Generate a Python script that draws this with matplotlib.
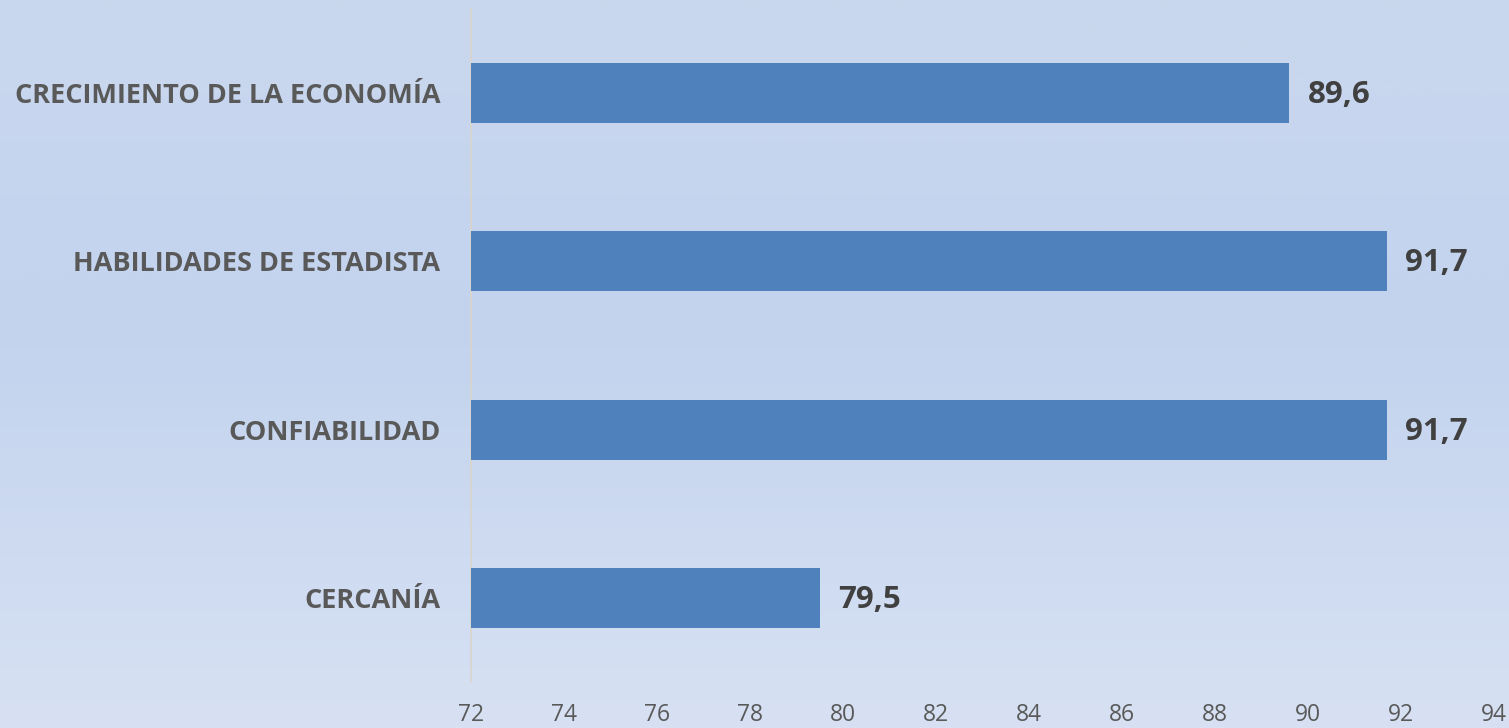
import matplotlib
matplotlib.use("Agg")
import matplotlib.pyplot as plt
import numpy as np
from matplotlib.colors import LinearSegmentedColormap

categories = ["CERCANÍA", "CONFIABILIDAD", "HABILIDADES DE ESTADISTA", "CRECIMIENTO DE LA ECONOMÍA"]
values = [79.5, 91.7, 91.7, 89.6]
value_labels = ["79,5", "91,7", "91,7", "89,6"]
xticks = [72, 74, 76, 78, 80, 82, 84, 86, 88, 90, 92, 94]

plt.rcParams['font.family'] = ['Open Sans', 'DejaVu Sans']

W, H = 1509, 728
fig = plt.figure(figsize=(W/100, H/100), dpi=100)

# background gradient
bg = fig.add_axes([0, 0, 1, 1], zorder=-10)
cmap = LinearSegmentedColormap.from_list("bg", [(0, "#CAD8EE"), (0.45, "#C3D3EE"), (1, "#D7E1F3")])
grad = np.linspace(0, 1, 256).reshape(-1, 1)
bg.imshow(grad, aspect="auto", cmap=cmap, extent=[0, 1, 0, 1], origin="upper")
bg.set_axis_off()

ax = fig.add_axes([471/W, 1-682/H, (1494-471)/W, (682-9)/H])
ax.patch.set_alpha(0)
y = np.arange(len(categories))
ax.barh(y, [v - 72 for v in values], left=72, height=0.357, color="#4F81BD", zorder=3)
ax.set_xlim(72, 94)
ax.set_ylim(-0.5, len(categories) - 0.5)
ax.set_xticks(xticks)
ax.set_xticklabels([str(t) for t in xticks], fontsize=16.5, color="#595959")
ax.set_yticks(y)
ax.set_yticklabels(categories, fontsize=19.5, fontweight="bold", color="#595959")
ax.tick_params(axis="x", length=0, pad=15)
ax.tick_params(axis="y", length=0, pad=22)
for s in ["top", "right", "bottom"]:
    ax.spines[s].set_visible(False)
ax.spines["left"].set_color("#D9D5CC")
ax.spines["left"].set_linewidth(1.2)

for yi, v, lab in zip(y, values, value_labels):
    ax.annotate(lab, xy=(v, yi), xytext=(18, -2), textcoords="offset pixels",
                va="center", ha="left", fontsize=22.5, fontweight="bold", color="#404040")

fig.savefig("out.png", dpi=100)
